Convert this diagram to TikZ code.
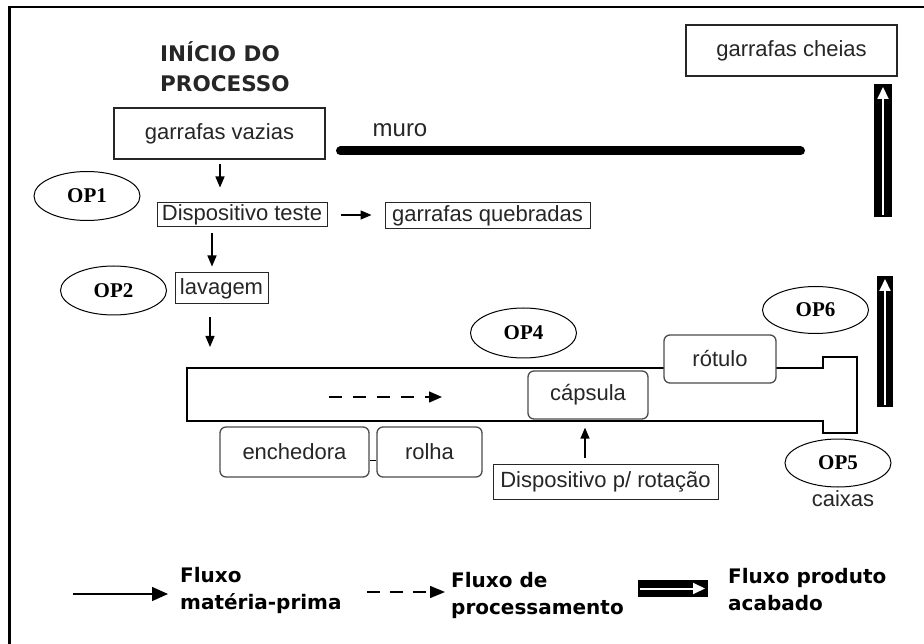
\documentclass[tikz,border=0pt]{standalone}
\usepackage{fontspec}
\setmainfont{Liberation Sans}
\newfontfamily\opfont{Liberation Serif}
\newfontfamily\legfont{DejaVu Sans}
\usetikzlibrary{arrows.meta,shapes.geometric}

\begin{document}
\begin{tikzpicture}[x=1pt, y=-1pt,
    caixa/.style={draw=black!85, line width=1.3pt, fill=white, inner sep=0pt,
        text=black!85, font=\fontsize{22}{26}\selectfont},
    maquina/.style={caixa, draw=black!70, rounded corners=6pt},
    op/.style={draw, ellipse, line width=1pt, fill=white, inner sep=0pt,
        minimum width=106pt, minimum height=49pt,
        font=\opfont\bfseries\fontsize{21}{24}\selectfont},
    fluxo/.style={line width=1.4pt, -{Triangle[length=11pt, width=9pt]}},
    processo/.style={line width=1.4pt, dash pattern=on 13pt off 11pt,
        -{Triangle[length=13pt, width=11pt]}},
    produto/.style={line width=18pt},
    produtoseta/.style={white, line width=2pt, -{Triangle[length=12pt, width=11pt]}},
    legenda/.style={align=left, anchor=west, inner sep=0pt,
        font=\legfont\bfseries\fontsize{20}{27}\selectfont}]

    \useasboundingbox (0,0) rectangle (924,644);
    \draw[line width=2.5pt] (9.5,644) -- (9.5,7) -- (924,7);

    \node[anchor=west, align=left, inner sep=0pt, text=black!85,
        font=\legfont\bfseries\fontsize{21.5}{30}\selectfont] (inicio) at (160,67) {INÍCIO DO\\PROCESSO};

    \node[caixa, minimum width=211pt, minimum height=51pt] (vazias) at (219.5,133.5) {garrafas vazias};
    \node[caixa, minimum width=211pt, minimum height=51pt] (cheias) at (791.5,50.5) {garrafas cheias};

    \node[text=black!85, inner sep=0pt, font=\fontsize{24}{28}\selectfont] (muro) at (400,130) {muro};
    \draw[line width=9pt, line cap=round] (340.5,151) -- (800.5,151);

    \node[caixa, line width=1pt, minimum width=170pt, minimum height=24pt] (teste) at (242,215) {Dispositivo teste};
    \node[caixa, line width=1pt, minimum width=205pt, minimum height=26pt] (quebradas) at (487.5,216) {garrafas quebradas};
    \node[caixa, line width=1pt, minimum width=93pt, minimum height=31pt] (lavagem) at (221.5,288.5) {lavagem};

    \node[op] (op1) at (87,196) {OP1};
    \node[op] (op2) at (113.5,290.5) {OP2};
    \node[op, minimum height=50pt] (op4) at (523.5,333) {OP4};
    \node[op, minimum height=47pt] (op6) at (815.5,310) {OP6};
    \node[op, minimum height=48pt] (op5) at (838,463) {OP5};
    \node[text=black!85, inner sep=0pt, font=\fontsize{22}{26}\selectfont] (caixas) at (843,499) {caixas};

    \draw[line width=1.2pt] (823,368) -- (187,368) -- (187,421) -- (823,421) -- (823,433)
        -- (857,433) -- (857,357) -- (823,357) -- cycle;
    \coordinate (dashini) at (329,397);
    \coordinate (dashfim) at (442,397);
    \draw[processo] (dashini) -- (dashfim);

    \node[maquina, minimum width=149pt, minimum height=50pt] (enchedora) at (294.5,452) {enchedora};
    \node[maquina, minimum width=105pt, minimum height=50pt] (rolha) at (429.5,452) {rolha};
    \node[maquina, minimum width=120pt, minimum height=48pt] (capsula) at (588,395) {cápsula};
    \node[maquina, minimum width=112pt, minimum height=48pt] (rotulo) at (720,359) {rótulo};
    \node[caixa, line width=1pt, minimum width=225pt, minimum height=35pt] (rotacao) at (605.5,481.5) {Dispositivo p/ rotação};

    \draw[line width=1pt] ([yshift=-8pt]enchedora.east) -- ([yshift=-8pt]rolha.west);

    \draw[fluxo, shorten <=4pt, shorten >=15pt] ([xshift=0.5pt]vazias.south) -- ([xshift=0.5pt]vazias.south |- teste.north);
    \draw[fluxo, shorten <=13pt, shorten >=13pt] (teste.east) -- (teste.east -| quebradas.west);
    \draw[fluxo, shorten <=6pt, shorten >=6pt] ([xshift=-30pt]teste.south) -- ([xshift=-30pt]teste.south |- lavagem.north);
    \coordinate (esteira) at (210,368);
    \draw[fluxo, shorten <=13pt, shorten >=21pt] ([xshift=-11.5pt]lavagem.south) -- (esteira);
    \draw[fluxo, shorten <=6pt, shorten >=8pt] ([xshift=-20.5pt]rotacao.north) -- ([xshift=-3pt]capsula.south);

    \coordinate (acabado1a) at (883,217);
    \coordinate (acabado1b) at (883,84);
    \coordinate (acabado2a) at (885,407);
    \coordinate (acabado2b) at (885,276);
    \draw[produto] (acabado1a) -- (acabado1b);
    \draw[produtoseta] ([yshift=2pt]acabado1a) -- ([yshift=-3pt]acabado1b);
    \draw[produto, line width=16pt] (acabado2a) -- (acabado2b);
    \draw[produtoseta] ([yshift=2pt]acabado2a) -- ([yshift=-3pt]acabado2b);

    \coordinate (leg1a) at (73,594);
    \coordinate (leg1b) at (168,594);
    \draw[line width=1.4pt, -{Triangle[length=16pt, width=14pt]}] (leg1a) -- (leg1b);
    \node[legenda] (leg1) at (180,590.5) {Fluxo\\matéria-prima};

    \coordinate (leg2a) at (367,592);
    \coordinate (leg2b) at (445,592);
    \draw[processo, dash pattern=on 13pt off 10pt, -{Triangle[length=15pt, width=12pt]}] (leg2a) -- (leg2b);
    \node[legenda] (leg2) at (451,595) {Fluxo de\\processamento};

    \coordinate (leg3a) at (638,588.5);
    \coordinate (leg3b) at (708,588.5);
    \draw[produto, line width=17pt] (leg3a) -- (leg3b);
    \draw[produtoseta] ([xshift=2pt]leg3a) -- ([xshift=-3pt]leg3b);
    \node[legenda] (leg3) at (728,590) {Fluxo produto\\acabado};
\end{tikzpicture}
\end{document}
